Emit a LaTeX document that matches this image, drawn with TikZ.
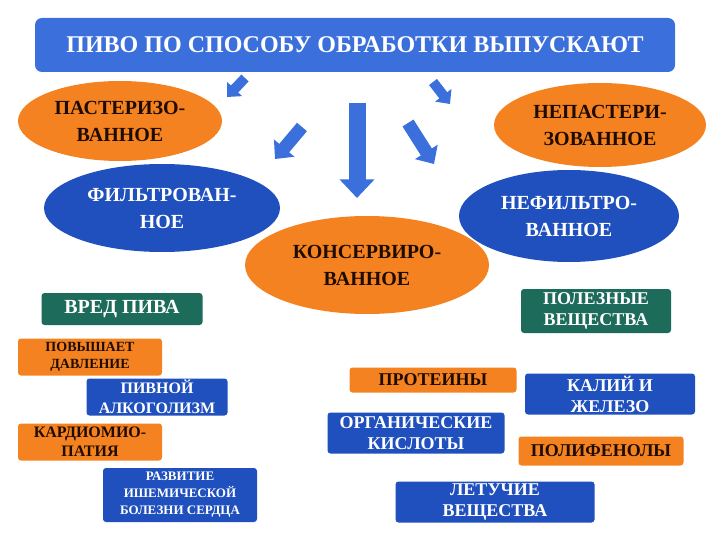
\documentclass[tikz,border=0pt]{standalone}
\usepackage{fontspec}
\setmainfont{Liberation Serif}
\usepackage{xcolor}
\usepackage{tikz}
\usetikzlibrary{shapes.geometric,arrows.meta}
\definecolor{ink}{HTML}{1E0C00}
\definecolor{ttlblue}{HTML}{3A6FDC}
\definecolor{ovblue}{HTML}{1F50BE}
\definecolor{orng}{HTML}{F58220}
\definecolor{grn}{HTML}{1D6B5B}

\begin{document}
\begin{tikzpicture}[x=1pt,y=-1pt,
     ttl/.style={fill=ttlblue,text=white,rounded corners=7pt,minimum width=640pt,minimum height=54pt,
       font=\bfseries\fontsize{24}{26}\selectfont},
     ovo/.style={ellipse,fill=orng,text=ink,align=center,inner sep=0pt,font=\bfseries\fontsize{20}{27}\selectfont},
     ovb/.style={ellipse,fill=ovblue,text=white,align=center,inner sep=0pt,font=\bfseries\fontsize{20}{27}\selectfont},
     tag/.style={rounded corners=3pt,align=center,inner sep=0pt,font=\bfseries\fontsize{18}{21}\selectfont},
     tgo/.style={tag,fill=orng,text=ink},
     tgb/.style={tag,fill=ovblue,text=white},
     tgg/.style={tag,fill=grn,text=white},
     blk/.style={draw=ttlblue,-{Triangle[width=#1*2,length=#1*1.1]},line width=#1}]
    \useasboundingbox (0,0) rectangle (720,540);
    \node[ttl](top) at (355,45){ПИВО ПО СПОСОБУ ОБРАБОТКИ ВЫПУСКАЮТ};
    % kinds of beer
    \node[ovo,minimum width=204pt,minimum height=80pt](past) at (120,121){ПАСТЕРИЗО-\\ВАННОЕ};
    \node[ovo,minimum width=212pt,minimum height=84pt](nepast) at (600,125){НЕПАСТЕРИ-\\ЗОВАННОЕ};
    \node[ovb,minimum width=236pt,minimum height=88pt](filt) at (162,208){ФИЛЬТРОВАН-\\НОЕ};
    \node[ovb,minimum width=220pt,minimum height=92pt](nefilt) at (569,216){НЕФИЛЬТРО-\\ВАННОЕ};
    \node[ovo,minimum width=244pt,minimum height=98pt](kons) at (367,265){КОНСЕРВИРО-\\ВАННОЕ};
    % arrows from the title
    \coordinate (a1) at (245,78); \coordinate (a2) at (227,97);
    \coordinate (b1) at (433,82); \coordinate (b2) at (450,104);
    \coordinate (c1) at (302,127); \coordinate (c2) at (275,159);
    \coordinate (d1) at (357,103); \coordinate (d2) at (357,198);
    \coordinate (e1) at (408,123); \coordinate (e2) at (434,164);
    \draw[blk=10pt](a1)--(a2); \draw[blk=10pt](b1)--(b2);
    \draw[blk=13pt](c1)--(c2); \draw[blk=13pt](e1)--(e2);
    \draw[blk=17pt](d1)--(d2);
    % harm
    \node[tgg,minimum width=161pt,minimum height=32pt,font=\bfseries\fontsize{20}{22}\selectfont](vred) at (122,309){ВРЕД ПИВА};
    \node[tgo,minimum width=144pt,minimum height=37pt,font=\bfseries\fontsize{14}{17}\selectfont](davl) at (90,357){ПОВЫШАЕТ\\ДАВЛЕНИЕ};
    \node[tgb,minimum width=141pt,minimum height=37pt,font=\bfseries\fontsize{16}{20}\selectfont](alko) at (157,397){ПИВНОЙ\\АЛКОГОЛИЗМ};
    \node[tgo,minimum width=144pt,minimum height=37pt,font=\bfseries\fontsize{16}{19}\selectfont](kard) at (90,442){КАРДИОМИО-\\ПАТИЯ};
    \node[tgb,minimum width=154pt,minimum height=54pt,font=\bfseries\fontsize{13}{17}\selectfont](ibs) at (180,495){РАЗВИТИЕ\\ИШЕМИЧЕСКОЙ\\БОЛЕЗНИ СЕРДЦА};
    % benefit
    \node[tgg,minimum width=150pt,minimum height=44pt](pol) at (596,311){ПОЛЕЗНЫЕ\\ВЕЩЕСТВА};
    \node[tgo,minimum width=167pt,minimum height=25pt](prot) at (433,380){ПРОТЕИНЫ};
    \node[tgb,minimum width=170pt,minimum height=41pt](kal) at (610,394){КАЛИЙ И\\ЖЕЛЕЗО};
    \node[tgb,minimum width=177pt,minimum height=41pt](org) at (416,433){ОРГАНИЧЕСКИЕ\\КИСЛОТЫ};
    \node[tgo,minimum width=165pt,minimum height=29pt](fen) at (601,451){ПОЛИФЕНОЛЫ};
    \node[tgb,minimum width=199pt,minimum height=41pt](let) at (495,502){ЛЕТУЧИЕ\\ВЕЩЕСТВА};
  \end{tikzpicture}
\end{document}
